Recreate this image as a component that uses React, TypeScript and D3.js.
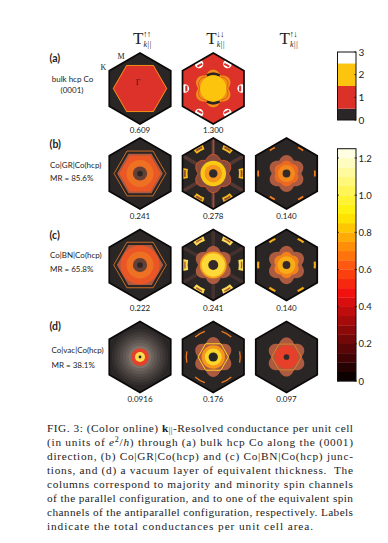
import React from "react";
import * as d3 from "d3";

// ---------- labels and values ----------
const rowIds = ["a", "b", "c", "d"];
const columnArrows = ["↑↑", "↓↓", "↑↓"];
const rowTags = ["(a)", "(b)", "(c)", "(d)"];
const rowNames = [["bulk hcp Co", "(0001)"], ["Co|GR|Co(hcp)", "MR = 85.6%"], ["Co|BN|Co(hcp)", "MR = 65.8%"], ["Co|vac|Co(hcp)", "MR = 38.1%"]];
const conductanceA = ["0.609", "1.300", ""];
const conductanceB = ["0.241", "0.278", "0.140"];
const conductanceC = ["0.222", "0.241", "0.140"];
const conductanceD = ["0.0916", "0.176", "0.097"];
const bulkTicks = [0, 1, 2, 3];
const bulkBands = [[0, 0.5], [0.5, 1.5], [1.5, 2.5], [2.5, 3]];
const hotTicks = [0, 0.2, 0.4, 0.6, 0.8, 1.0, 1.2];
const hotMax = 1.25;
const hotBandCount = 25;

type F = { k: string; r?: number; g: number; a?: number; w?: number; span?: number; th?: number; dirs?: number[]; o?: number; grey?: boolean };
const sides = [90, 150, 210, 270, 330, 30];
const corners = [0, 60, 120, 180, 240, 300];
const poles = [0, 180];

const mapA1: F[] = [
  { k: "flat", r: 0.74, g: 1 },
  { k: "flatLine", r: 0.75, g: 1.7, w: 0.8, o: 0.8 },
];
const mapA2: F[] = [
  { k: "spot", r: 0.8, g: 3, w: 4.3, dirs: sides },
  { k: "arc", r: 0.76, th: 0.06, span: 6, g: 1, dirs: sides },
  { k: "rose", r: 0.42, a: 0.11, g: 2, o: 0.65 },
  { k: "roseLine", r: 0.37, a: 0.08, g: 1, w: 0.6 },
  { k: "arc", r: 0.41, th: 0.08, span: 26, g: 0, dirs: poles },
  { k: "disc", r: 0.37, g: 2 },
];
const mapB1: F[] = [
  { k: "flatLine", r: 0.73, g: 0.66, w: 0.8 },
  { k: "flat", r: 0.62, g: 0.3 },
  { k: "flat", r: 0.56, g: 0.55 },
  { k: "disc", r: 0.38, g: 0.62 },
  { k: "disc", r: 0.2, g: 0.16 },
  { k: "disc", r: 0.08, g: 0.0 },
];
const mapB2: F[] = [
  { k: "ray", r: 1.0, g: 0.12, w: 3.5, dirs: corners },
  { k: "ray", r: 1.0, g: 0.4, w: 1, dirs: poles },
  { k: "arc", r: 0.8, th: 0.15, span: 10, g: 0.84, dirs: sides },
  { k: "arc", r: 0.8, th: 0.05, span: 7, g: 0.25, dirs: sides },
  { k: "rose", r: 0.42, a: 0.12, g: 0.24 },
  { k: "roseLine", r: 0.42, a: 0.12, g: 0.55, w: 0.8 },
  { k: "disc", r: 0.36, g: 0.88 },
  { k: "disc", r: 0.25, g: 0.74 },
  { k: "disc", r: 0.12, g: 0.02 },
];
const mapB3: F[] = [
  { k: "arc", r: 0.8, th: 0.05, span: 6, g: 0.66, dirs: sides },
  { k: "rose", r: 0.41, a: 0.11, g: 0.3 },
  { k: "rose", r: 0.31, a: 0.05, g: 0.6 },
  { k: "disc", r: 0.24, g: 0.7 },
  { k: "disc", r: 0.11, g: 0.03 },
];
const mapC1: F[] = [
  { k: "flatLine", r: 0.74, g: 0.66, w: 0.8 },
  { k: "flat", r: 0.63, g: 0.3 },
  { k: "disc", r: 0.55, g: 0.54 },
  { k: "disc", r: 0.38, g: 0.62 },
  { k: "disc", r: 0.2, g: 0.16 },
  { k: "disc", r: 0.08, g: 0.0 },
];
const mapC2: F[] = [
  { k: "ray", r: 1.0, g: 0.07, w: 3.5, dirs: corners },
  { k: "arc", r: 0.8, th: 0.16, span: 11, g: 1.0, dirs: sides },
  { k: "arc", r: 0.8, th: 0.04, span: 7, g: 0.3, dirs: sides },
  { k: "rose", r: 0.42, a: 0.12, g: 0.3 },
  { k: "disc", r: 0.38, g: 0.76 },
  { k: "disc", r: 0.33, g: 0.96 },
  { k: "disc", r: 0.14, g: 0.03 },
];
const mapC3: F[] = [
  { k: "arc", r: 0.8, th: 0.06, span: 7, g: 0.8, dirs: sides },
  { k: "rose", r: 0.42, a: 0.12, g: 0.3 },
  { k: "rose", r: 0.31, a: 0.06, g: 0.68 },
  { k: "disc", r: 0.25, g: 0.8 },
  { k: "disc", r: 0.11, g: 0.03 },
];
const mapD1: F[] = [
  { k: "disc", r: 0.8, g: 0.1, grey: true },
  { k: "disc", r: 0.72, g: 0.2, grey: true },
  { k: "disc", r: 0.64, g: 0.32, grey: true },
  { k: "disc", r: 0.56, g: 0.45, grey: true },
  { k: "disc", r: 0.48, g: 0.58, grey: true },
  { k: "disc", r: 0.4, g: 0.72, grey: true },
  { k: "disc", r: 0.32, g: 0.9, grey: true },
  { k: "disc", r: 0.25, g: 0.47 },
  { k: "disc", r: 0.14, g: 1.0 },
  { k: "disc", r: 0.04, g: 0.0 },
];
const mapD2: F[] = [
  { k: "arc", r: 0.76, th: 0.035, span: 12, g: 0.66, dirs: sides },
  { k: "rose", r: 0.42, a: 0.14, g: 0.3 },
  { k: "flatLine", r: 0.43, g: 0.92, w: 1 },
  { k: "disc", r: 0.33, g: 0.74 },
  { k: "disc", r: 0.24, g: 0.94 },
  { k: "disc", r: 0.13, g: 0.0 },
];
const mapD3: F[] = [
  { k: "rose", r: 0.42, a: 0.13, g: 0.3 },
  { k: "flatLine", r: 0.42, g: 0.72, w: 0.7 },
  { k: "disc", r: 0.33, g: 0.47 },
  { k: "disc", r: 0.08, g: 0.02 },
];
const rowMaps: (F[] | null)[][] = [
  [mapA1, mapA2, null],
  [mapB1, mapB2, mapB3],
  [mapC1, mapC2, mapC3],
  [mapD1, mapD2, mapD3],
];
const rowValues = [conductanceA, conductanceB, conductanceC, conductanceD];

const caption = [
  [["FIG. 3: (Color online) "], ["k", "b"], ["||", "sub"], ["-Resolved conductance per unit cell"]],
  [["(in units of "], ["e", "i"], ["2", "sup"], ["/"], ["h", "i"], [") through (a) bulk hcp Co along the (0001)"]],
  [["direction, (b) Co|GR|Co(hcp) and (c) Co|BN|Co(hcp) junc-"]],
  [["tions, and (d) a vacuum layer of equivalent thickness.  The"]],
  [["columns correspond to majority and minority spin channels"]],
  [["of the parallel configuration, and to one of the equivalent spin"]],
  [["channels of the antiparallel configuration, respectively. Labels"]],
  [["indicate the total conductances per unit cell area."]],
];

// ---------- scales ----------
const W = 388, H = 543;
const sans = "Lato, 'Open Sans', sans-serif";
const serif = "'Liberation Serif', 'DejaVu Serif', serif";
const R = 35.5;
const capSize = 11.3;
const xCol = d3.scalePoint<number>().domain([0, 1, 2]).range([140, 286.5]);
const yRow = d3.scaleOrdinal<string, number>().domain(rowIds).range([88.5, 173.5, 265, 357]);
const yValue = d3.scaleOrdinal<string, number>().domain(rowIds).range([132.5, 219, 310.5, 402]);
const yTag = d3.scaleOrdinal<string, number>().domain(rowIds).range([62, 148, 238.5, 330]);
const yName1 = d3.scaleOrdinal<string, number>().domain(rowIds).range([82, 167.5, 257.5, 353]);
const yName2 = d3.scaleOrdinal<string, number>().domain(rowIds).range([93, 181, 272, 367.5]);
const rScale = d3.scaleLinear().domain([0, 1]).range([0, R]);

const bulkColor = d3.scaleThreshold<number, string>().domain([0.5, 1.5, 2.5]).range(["#2a2627", "#dc3129", "#fcc40e", "#ffffff"]);
const mapColor = d3.scaleLinear<string>()
  .domain([0, 0.2, 0.3, 0.47, 0.7, 0.9, 1.25])
  .range(["#2a2627", "#74463a", "#ac5a40", "#e6402a", "#f3891c", "#fbd012", "#fffef0"]);
const greyColor = d3.scaleLinear<string>().domain([0, 1]).range(["#2a2627", "#857a70"]);
const barColor = d3.scaleLinear<string>()
  .domain([0, 0.47, 0.62, 0.9, 1.25])
  .range(["#000000", "#f01010", "#ff5510", "#fff000", "#fffff4"]);

const yBulk = d3.scaleLinear().domain([0, 3]).range([120, 52]);
const yHot = d3.scaleLinear().domain([0, 1.2]).range([381, 158]);
const barX = 337.5, barW = 18.5;

const rad = (deg: number) => (deg * Math.PI) / 180;
const polygon = (r: number, start: number) =>
  d3.lineRadial<number>().angle((d) => rad(d)).radius(() => rScale(r)).curve(d3.curveLinearClosed)(d3.range(6).map((i) => start + i * 60)) as string;
const rose = (r: number, a: number) =>
  d3.lineRadial<number>().angle((d) => rad(d)).radius((d) => rScale(r + a * Math.abs(Math.cos(rad(d) * 3)))).curve(d3.curveLinearClosed)(d3.range(0, 360, 4)) as string;
const outerHex = polygon(1, 0);

function Feature({ f, color }: { f: F; color: (g: number) => string }) {
  const c = f.grey ? greyColor(f.g) : color(f.g);
  const r = f.r ?? 0;
  const o = f.o ?? 1;
  switch (f.k) {
    case "flat":
      return <path d={polygon(r, 30)} fill={c} stroke={c} strokeWidth={1.5} strokeLinejoin="round" />;
    case "flatLine":
      return <path d={polygon(r, 30)} fill="none" stroke={c} strokeOpacity={o} strokeWidth={f.w} strokeLinejoin="round" />;
    case "disc":
      return <circle r={rScale(r)} fill={c} />;
    case "rose":
      return <path d={rose(r, f.a ?? 0)} fill={c} fillOpacity={o} />;
    case "roseLine":
      return <path d={rose(r, f.a ?? 0)} fill="none" stroke={c} strokeWidth={f.w} />;
    case "spot":
      return <>{(f.dirs ?? []).map((d) => (
        <circle key={d} cx={rScale(r) * Math.sin(rad(d))} cy={-rScale(r) * Math.cos(rad(d))} r={f.w} fill={c} />
      ))}</>;
    case "ray":
      return <>{(f.dirs ?? []).map((d) => (
        <line key={d} x1={0} y1={0} x2={rScale(r) * Math.sin(rad(d))} y2={-rScale(r) * Math.cos(rad(d))} stroke={c} strokeWidth={f.w} />
      ))}</>;
    case "arc":
      return <>{(f.dirs ?? []).map((d) => (
        <path key={d} fill={c}
          d={d3.arc()({ innerRadius: rScale(r - (f.th ?? 0) / 2), outerRadius: rScale(r + (f.th ?? 0) / 2), startAngle: rad(d - (f.span ?? 0)), endAngle: rad(d + (f.span ?? 0)) }) as string} />
      ))}</>;
  }
  return null;
}

function Panel({ row, col, features }: { row: string; col: number; features: F[] }) {
  const id = `clip-${row}${col}`;
  const color = row === "a" ? (g: number) => bulkColor(g) : (g: number) => mapColor(g);
  const bg = row === "a" && col === 1 ? color(1) : color(0);
  return (
    <g transform={`translate(${xCol(col)},${yRow(row)})`}>
      <clipPath id={id}><path d={outerHex} /></clipPath>
      <g clipPath={`url(#${id})`}>
        <g filter="url(#soft)">
          <path d={polygon(1.1, 0)} fill={bg} />
          {features.map((f, i) => <Feature key={i} f={f} color={color} />)}
        </g>
      </g>
      <path d={outerHex} fill="none" stroke="#0a0808" strokeWidth={1.7} strokeLinejoin="miter" />
    </g>
  );
}

export default function App() {
  const bands = d3.range(hotBandCount).map((i) => (i * hotMax) / hotBandCount);
  const bandH = (yHot(0) - yHot(hotMax)) / hotBandCount;
  return (
    <svg width={W} height={H} viewBox={`0 0 ${W} ${H}`} style={{ position: "absolute", left: 0, top: 0, display: "block", background: "#fff" }}>
      <defs>
        <filter id="soft" x="-10%" y="-10%" width="120%" height="120%"><feGaussianBlur stdDeviation={0.5} /></filter>
      </defs>

      {columnArrows.map((arrows, i) => (
        <g key={arrows} transform={`translate(${xCol(i)! - 7},44)`} fill="#222">
          <text x={0} y={0} fontFamily={serif} fontSize={17}>T</text>
          <text x={10} y={-7.5} fontFamily={serif} fontSize={9} letterSpacing={-0.8}>{arrows}</text>
          <text x={10.5} y={2.5} fontFamily={serif} fontSize={8} fontStyle="italic">k||</text>
        </g>
      ))}

      {rowIds.map((row, ri) => (
        <g key={row} fill="#222" fontFamily={sans}>
          <text x={49.5} y={yTag(row)} fontSize={10.5} fontWeight={700}>{rowTags[ri]}</text>
          <text x={row === "a" ? 72.5 : row === "d" ? 51.5 : 50} y={yName1(row)} fontSize={8} textAnchor={row === "a" ? "middle" : "start"}>{rowNames[ri][0]}</text>
          <text x={row === "a" ? 72 : row === "d" ? 51.5 : 50} y={yName2(row)} fontSize={8} textAnchor={row === "a" ? "middle" : "start"}>{rowNames[ri][1]}</text>
          {rowMaps[ri].map((features, ci) => features && <Panel key={ci} row={row} col={ci} features={features} />)}
          {rowValues[ri].map((v, ci) => v && (
            <text key={ci} x={xCol(ci)} y={yValue(row)} fontSize={8} textAnchor="middle">{v}</text>
          ))}
        </g>
      ))}

      <g fontFamily={serif} fontSize={8} fill="#222">
        <text x={121} y={59} textAnchor="middle">M</text>
        <text x={103.5} y={70} textAnchor="middle">K</text>
        <text x={138} y={85} textAnchor="middle">Γ</text>
      </g>

      {/* discrete colour bar */}
      <g>
        {bulkBands.map(([lo, hi]) => (
          <rect key={lo} x={barX} width={barW} y={yBulk(hi)} height={yBulk(lo) - yBulk(hi)} fill={bulkColor((lo + hi) / 2)} />
        ))}
        <rect x={barX} width={barW} y={yBulk(3)} height={yBulk(0) - yBulk(3)} fill="none" stroke="#111" strokeWidth={1} />
        {bulkTicks.map((t) => (
          <g key={t}>
            <line x1={barX + barW - 1.5} x2={barX + barW} y1={yBulk(t)} y2={yBulk(t)} stroke="#111" />
            <text x={barX + barW + 2.5} y={yBulk(t) + 3.5} fontFamily={sans} fontSize={10} fill="#222">{t}</text>
          </g>
        ))}
      </g>

      {/* continuous colour bar */}
      <g>
        {bands.map((b) => (
          <rect key={b} x={barX} width={barW} y={yHot(b + hotMax / hotBandCount)} height={bandH + 0.3} fill={barColor(b + hotMax / hotBandCount / 2)} />
        ))}
        <rect x={barX} width={barW} y={yHot(hotMax)} height={yHot(0) - yHot(hotMax)} fill="none" stroke="#111" strokeWidth={1} />
        {hotTicks.map((t) => (
          <g key={t}>
            <line x1={barX + barW - 1.5} x2={barX + barW + 1} y1={yHot(t)} y2={yHot(t)} stroke="#111" strokeWidth={0.8} />
            <line x1={barX} x2={barX + 1.5} y1={yHot(t)} y2={yHot(t)} stroke="#111" strokeWidth={0.8} />
            <text x={barX + barW + 2.5} y={yHot(t) + 3.5} fontFamily={sans} fontSize={9.5} fill="#222">{t === 0 ? "0" : d3.format(".1f")(t)}</text>
          </g>
        ))}
      </g>

      {/* caption */}
      <g fontFamily={serif} fontSize={capSize} fill="#1c1c1c">
        {caption.map((segs, i) => (
          <text key={i} x={47} y={431.5 + i * 14} textLength={i === 7 ? 266 : 306} lengthAdjust="spacing" xmlSpace="preserve">
            {segs.map((s, j) => {
              const st = s[1];
              return (
                <tspan key={j}
                  fontWeight={st === "b" ? 700 : 400}
                  fontStyle={st === "i" ? "italic" : "normal"}
                  fontSize={st === "sub" || st === "sup" ? 8 : capSize}
                  dy={st === "sub" ? 1.8 : st === "sup" ? -3.5 : j > 0 && (segs[j - 1][1] === "sub") ? -1.8 : j > 0 && (segs[j - 1][1] === "sup") ? 3.5 : 0}>
                  {s[0]}
                </tspan>
              );
            })}
          </text>
        ))}
      </g>
    </svg>
  );
}
